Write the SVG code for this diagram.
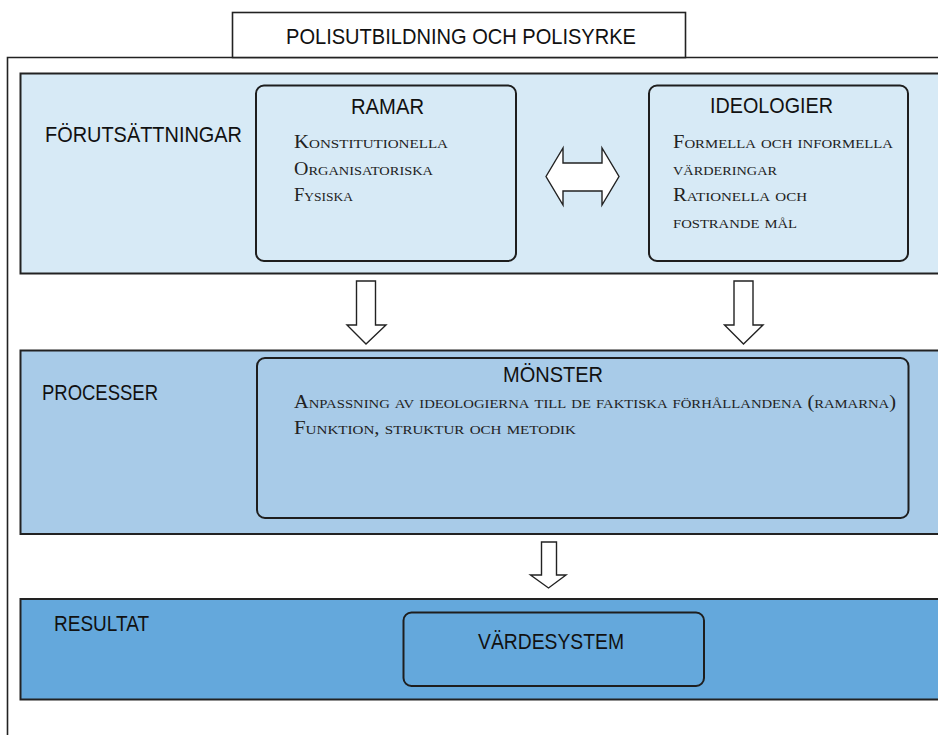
<svg xmlns="http://www.w3.org/2000/svg" width="938" height="735" viewBox="0 0 938 735">
<style>
.frame{fill:#ffffff;stroke:#222222;stroke-width:1.6}
.band{stroke:#222222;stroke-width:2}
.b1{fill:#d7eaf6}
.b2{fill:#a8cbe8}
.b3{fill:#64a8dc}
.box{fill:none;stroke:#1e1e1e;stroke-width:2}
.sans{font-family:"Liberation Sans","Open Sans",sans-serif;font-size:22px;fill:#111111}
.sc{font-family:"Liberation Serif","DejaVu Serif",serif;font-size:18px;font-variant:small-caps;fill:#222222}
.arrow{fill:#ffffff;stroke:#222222;stroke-width:1.4;stroke-linejoin:miter}
</style>
<rect x="0" y="0" width="938" height="735" fill="#ffffff"/>
<g id="frame">
<path class="frame" d="M7.5 740 V57.5 H945"/>
</g>
<g id="title">
<rect class="frame" x="232.5" y="12.5" width="453" height="45"/>
<text class="sans" x="286" y="43.5" textLength="350" lengthAdjust="spacingAndGlyphs">POLISUTBILDNING OCH POLISYRKE</text>
</g>
<g id="band-forutsattningar">
<rect class="band b1" x="20.5" y="73.5" width="930" height="200"/>
<text class="sans" x="45" y="142" textLength="197" lengthAdjust="spacingAndGlyphs">FÖRUTSÄTTNINGAR</text>
</g>
<g id="ramar">
<rect class="box" x="256" y="85.5" width="260" height="175.5" rx="8"/>
<text class="sans" x="351" y="114" textLength="73" lengthAdjust="spacingAndGlyphs">RAMAR</text>
<text class="sc" x="294" y="148" textLength="154" lengthAdjust="spacingAndGlyphs">Konstitutionella</text>
<text class="sc" x="294" y="175" textLength="139" lengthAdjust="spacingAndGlyphs">Organisatoriska</text>
<text class="sc" x="294" y="201" textLength="59" lengthAdjust="spacingAndGlyphs">Fysiska</text>
</g>
<g id="ideologier">
<rect class="box" x="649" y="85.5" width="259" height="175.5" rx="8"/>
<text class="sans" x="710" y="113" textLength="123" lengthAdjust="spacingAndGlyphs">IDEOLOGIER</text>
<text class="sc" x="673" y="148" textLength="220" lengthAdjust="spacingAndGlyphs">Formella och informella</text>
<text class="sc" x="673" y="175" textLength="104" lengthAdjust="spacingAndGlyphs">värderingar</text>
<text class="sc" x="673" y="201" textLength="134" lengthAdjust="spacingAndGlyphs">Rationella och</text>
<text class="sc" x="673" y="228" textLength="124" lengthAdjust="spacingAndGlyphs">fostrande mål</text>
</g>
<g id="band-processer">
<rect class="band b2" x="20.5" y="350.5" width="930" height="183.5"/>
<text class="sans" x="42" y="400" textLength="116" lengthAdjust="spacingAndGlyphs">PROCESSER</text>
</g>
<g id="monster">
<rect class="box" x="257" y="358" width="651.5" height="160" rx="8"/>
<text class="sans" x="503" y="382" textLength="100" lengthAdjust="spacingAndGlyphs">MÖNSTER</text>
<text class="sc" x="294" y="408" textLength="602" lengthAdjust="spacingAndGlyphs">Anpassning av ideologierna till de faktiska förhållandena (ramarna)</text>
<text class="sc" x="294" y="434" textLength="282" lengthAdjust="spacingAndGlyphs">Funktion, struktur och metodik</text>
</g>
<g id="band-resultat">
<rect class="band b3" x="20.5" y="599" width="930" height="100.5"/>
<text class="sans" x="54" y="631" textLength="95" lengthAdjust="spacingAndGlyphs">RESULTAT</text>
</g>
<g id="vardesystem">
<rect class="box" x="403.5" y="612.5" width="300.5" height="73.5" rx="8"/>
<text class="sans" x="478" y="649" textLength="146" lengthAdjust="spacingAndGlyphs">VÄRDESYSTEM</text>
</g>
<g id="connectors">
<path class="arrow" d="M546 176.5 L563 148 L563 163 L602 163 L602 148 L619 176.5 L602 205 L602 191 L563 191 L563 205 Z"/>
<path class="arrow" d="M356.5 281 H375.5 V325 H386 L366 344 L347 325 H356.5 Z"/>
<path class="arrow" d="M734 281 H753 V325 H763 L743.5 344 L724.5 325 H734 Z"/>
<path class="arrow" d="M541.5 542 H556.5 V575 H566 L548.5 588 L530.5 575 H541.5 Z"/>
</g>
</svg>
